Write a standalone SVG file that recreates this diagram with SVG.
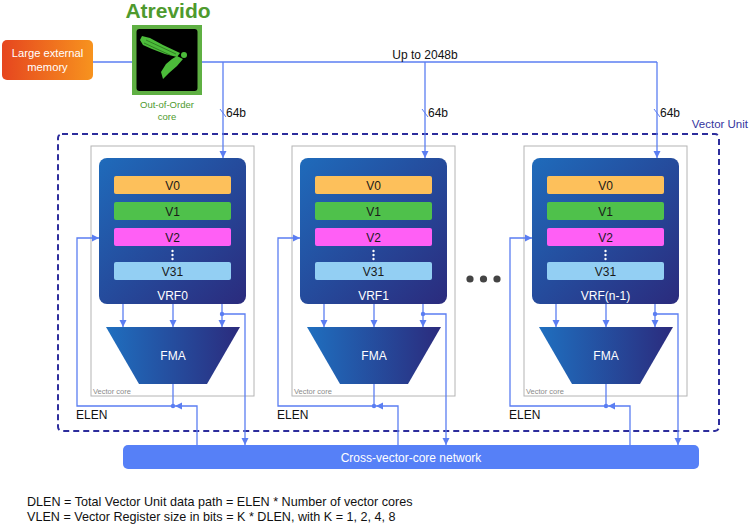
<svg xmlns="http://www.w3.org/2000/svg" width="750" height="525" viewBox="0 0 750 525">
<defs>
  <linearGradient id="gMem" x1="0" y1="0" x2="1" y2="0">
    <stop offset="0" stop-color="#e6461f"/>
    <stop offset="1" stop-color="#f7931e"/>
  </linearGradient>
  <linearGradient id="gVrf" x1="0" y1="0" x2="1" y2="1">
    <stop offset="0" stop-color="#1f6bbb"/>
    <stop offset="1" stop-color="#2b2b7d"/>
  </linearGradient>
  <linearGradient id="gFma" x1="0" y1="0" x2="1" y2="0">
    <stop offset="0" stop-color="#1f6fbf"/>
    <stop offset="1" stop-color="#2b2b7d"/>
  </linearGradient>
  <marker id="arr" markerUnits="userSpaceOnUse" markerWidth="8" markerHeight="8" refX="7" refY="4" orient="auto">
    <path d="M0,0.5 L7,4 L0,7.5 z" fill="#5b7ef2"/>
  </marker>
</defs>
<style>
  text { font-family: "Liberation Sans", Arial, sans-serif; }
  .lbl { font-size: 12px; fill: #111; }
  .note { font-size: 12.6px; fill: #111; }
  .core { fill: none; stroke: #b4b4b4; stroke-width: 1; }
  .vc { font-size: 7.5px; fill: #8a8a8a; }
  .reg { font-size: 12px; fill: #1a1a1a; text-anchor: middle; }
  .wt { font-size: 12px; fill: #ffffff; text-anchor: middle; }
  .ln { fill: none; stroke: #5b7ef2; stroke-width: 1.3; }
  .ar { marker-end: url(#arr); }
  .dot { fill: #5b7ef2; }
  .wd { fill: #ffffff; }
  .tick { stroke: #5b7ef2; stroke-width: 1; }
</style>

<g id="memory">
  <rect x="2" y="40" width="91" height="40" rx="5" fill="url(#gMem)"/>
  <text x="47.5" y="57" class="wt" style="font-size:11.2px">Large external</text>
  <text x="47.5" y="71" class="wt" style="font-size:11.2px">memory</text>
</g>

<g id="atrevido">
  <text x="168" y="18" font-size="21" font-weight="bold" fill="#4e9a2e" text-anchor="middle">Atrevido</text>
  <rect x="132" y="25" width="70" height="70" fill="#5fb043"/>
  <rect x="136.5" y="29" width="61" height="62" rx="3" fill="#000000"/>
  <polygon points="142,36 150,38 163,45 180,53 177,57 165,54 152,49 143,45 140,40" fill="#4cbc3a"/>
  <path d="M146,40 L176,54 M144,43 L170,55" stroke="#1e5a14" stroke-width="0.6" fill="none"/>
  <polygon points="177,56 183,59 177,66 169,73 163,79 161,72 166,64 172,59" fill="#4cbc3a"/>
  <circle cx="184" cy="55" r="3" fill="#4cbc3a"/>
  <text x="167" y="108" font-size="9.5" fill="#4e9a2e" text-anchor="middle">Out-of-Order</text>
  <text x="167" y="119.5" font-size="9.5" fill="#4e9a2e" text-anchor="middle">core</text>
</g>

<g id="vector-unit">
  <rect x="58" y="134" width="661" height="297" rx="4" fill="none" stroke="#2d2d9c" stroke-width="2" stroke-dasharray="6 4"/>
  <text x="748" y="128" font-size="11.5" fill="#3535a0" text-anchor="end">Vector Unit</text>
</g>

<g id="core0">
  <rect class="core" x="91" y="146" width="163" height="250"/>
  <text class="vc" x="93" y="394">Vector core</text>
  <rect x="99" y="158" width="147" height="146" rx="8" fill="url(#gVrf)"/>
  <rect x="114" y="176" width="117" height="18" rx="2" fill="#fdc05b"/>
  <text class="reg" x="172.5" y="189.5">V0</text>
  <rect x="114" y="202" width="117" height="18" rx="2" fill="#4fc14b"/>
  <text class="reg" x="172.5" y="215.5">V1</text>
  <rect x="114" y="228" width="117" height="18" rx="2" fill="#ff5ff5"/>
  <text class="reg" x="172.5" y="241.5">V2</text>
  <circle class="wd" cx="172.5" cy="251" r="1.2"/><circle class="wd" cx="172.5" cy="255" r="1.2"/><circle class="wd" cx="172.5" cy="259" r="1.2"/>
  <rect x="114" y="262" width="117" height="18" rx="2" fill="#93cff3"/>
  <text class="reg" x="172.5" y="275.5">V31</text>
  <text class="wt" x="172.5" y="300">VRF0</text>
  <polygon points="106,327 240,327 207,384 139,384" fill="url(#gFma)"/>
  <text class="wt" x="173" y="360">FMA</text>
</g>

<g id="core1">
  <rect class="core" x="292" y="146" width="163" height="250"/>
  <text class="vc" x="294" y="394">Vector core</text>
  <rect x="300" y="158" width="147" height="146" rx="8" fill="url(#gVrf)"/>
  <rect x="315" y="176" width="117" height="18" rx="2" fill="#fdc05b"/>
  <text class="reg" x="373.5" y="189.5">V0</text>
  <rect x="315" y="202" width="117" height="18" rx="2" fill="#4fc14b"/>
  <text class="reg" x="373.5" y="215.5">V1</text>
  <rect x="315" y="228" width="117" height="18" rx="2" fill="#ff5ff5"/>
  <text class="reg" x="373.5" y="241.5">V2</text>
  <circle class="wd" cx="373.5" cy="251" r="1.2"/><circle class="wd" cx="373.5" cy="255" r="1.2"/><circle class="wd" cx="373.5" cy="259" r="1.2"/>
  <rect x="315" y="262" width="117" height="18" rx="2" fill="#93cff3"/>
  <text class="reg" x="373.5" y="275.5">V31</text>
  <text class="wt" x="373.5" y="300">VRF1</text>
  <polygon points="307,327 441,327 408,384 340,384" fill="url(#gFma)"/>
  <text class="wt" x="374" y="360">FMA</text>
</g>

<g id="ellipsis">
  <circle cx="470" cy="279" r="3.6" fill="#444"/>
  <circle cx="483.5" cy="279" r="3.6" fill="#444"/>
  <circle cx="497" cy="279" r="3.6" fill="#444"/>
</g>

<g id="core2">
  <rect class="core" x="524" y="146" width="163" height="250"/>
  <text class="vc" x="526" y="394">Vector core</text>
  <rect x="532" y="158" width="147" height="146" rx="8" fill="url(#gVrf)"/>
  <rect x="547" y="176" width="117" height="18" rx="2" fill="#fdc05b"/>
  <text class="reg" x="605.5" y="189.5">V0</text>
  <rect x="547" y="202" width="117" height="18" rx="2" fill="#4fc14b"/>
  <text class="reg" x="605.5" y="215.5">V1</text>
  <rect x="547" y="228" width="117" height="18" rx="2" fill="#ff5ff5"/>
  <text class="reg" x="605.5" y="241.5">V2</text>
  <circle class="wd" cx="605.5" cy="251" r="1.2"/><circle class="wd" cx="605.5" cy="255" r="1.2"/><circle class="wd" cx="605.5" cy="259" r="1.2"/>
  <rect x="547" y="262" width="117" height="18" rx="2" fill="#93cff3"/>
  <text class="reg" x="605.5" y="275.5">V31</text>
  <text class="wt" x="605.5" y="300">VRF(n-1)</text>
  <polygon points="539,327 673,327 640,384 572,384" fill="url(#gFma)"/>
  <text class="wt" x="606" y="360">FMA</text>
</g>

<g id="network">
  <rect x="123" y="445" width="576" height="24" rx="5" fill="#5680f7"/>
  <text class="wt" x="411" y="462">Cross-vector-core network</text>
</g>

<g id="connectors">
  <path class="ln" d="M93,62 H132"/>
  <path class="ln" d="M202,62 H657"/>
  <text class="lbl" x="425" y="59" text-anchor="middle">Up to 2048b</text>

  <!-- core 0 -->
  <path class="ln ar" d="M223,62 V158"/>
  <line class="tick" x1="220" y1="109" x2="226" y2="117"/>
  <text class="lbl" x="226" y="117">64b</text>
  <path class="ln ar" d="M123,304 V327"/>
  <path class="ln ar" d="M173,304 V327"/>
  <path class="ln ar" d="M222,304 V327"/>
  <circle class="dot" cx="222" cy="314" r="2.2"/>
  <path class="ln ar" d="M222,314 H245 V445"/>
  <path class="ln" d="M173,384 V406"/>
  <circle class="dot" cx="173" cy="406" r="2.2"/>
  <path class="ln ar" d="M173,406 H77 V238 H99"/>
  <path class="ln ar" d="M197,445 V406 H175"/>
  <text class="lbl" x="76" y="419">ELEN</text>

  <!-- core 1 -->
  <path class="ln ar" d="M425,62 V158"/>
  <line class="tick" x1="422" y1="109" x2="428" y2="117"/>
  <text class="lbl" x="428" y="117">64b</text>
  <path class="ln ar" d="M324,304 V327"/>
  <path class="ln ar" d="M374,304 V327"/>
  <path class="ln ar" d="M423,304 V327"/>
  <circle class="dot" cx="423" cy="314" r="2.2"/>
  <path class="ln ar" d="M423,314 H446 V445"/>
  <path class="ln" d="M374,384 V406"/>
  <circle class="dot" cx="374" cy="406" r="2.2"/>
  <path class="ln ar" d="M374,406 H278 V238 H300"/>
  <path class="ln ar" d="M398,445 V406 H376"/>
  <text class="lbl" x="277" y="419">ELEN</text>

  <!-- core 2 -->
  <path class="ln ar" d="M657,62 V158"/>
  <line class="tick" x1="654" y1="109" x2="660" y2="117"/>
  <text class="lbl" x="660" y="117">64b</text>
  <path class="ln ar" d="M556,304 V327"/>
  <path class="ln ar" d="M606,304 V327"/>
  <path class="ln ar" d="M655,304 V327"/>
  <circle class="dot" cx="655" cy="314" r="2.2"/>
  <path class="ln ar" d="M655,314 H678 V445"/>
  <path class="ln" d="M606,384 V406"/>
  <circle class="dot" cx="606" cy="406" r="2.2"/>
  <path class="ln ar" d="M606,406 H510 V238 H532"/>
  <path class="ln ar" d="M630,445 V406 H608"/>
  <text class="lbl" x="509" y="419">ELEN</text>
</g>

<g id="notes">
  <text class="note" x="27" y="506">DLEN = Total Vector Unit data path = ELEN * Number of vector cores</text>
  <text class="note" x="27" y="521">VLEN = Vector Register size in bits  = K * DLEN, with K = 1, 2, 4, 8</text>
</g>
</svg>
